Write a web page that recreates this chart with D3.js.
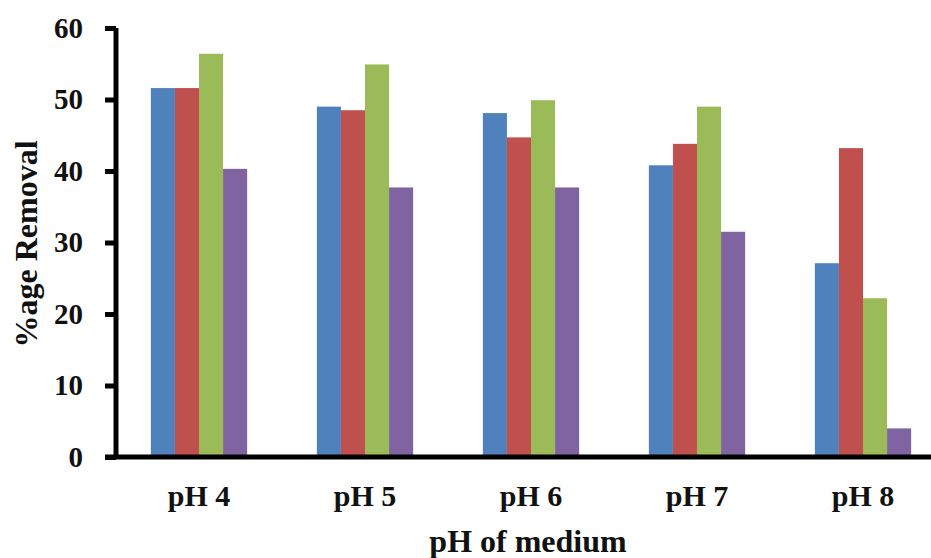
<!DOCTYPE html>
<html><head><meta charset="utf-8">
<script src="https://cdn.jsdelivr.net/npm/d3@7"></script>
<style>body{margin:0;background:#fff}svg{display:block}
svg text{font-family:"Liberation Serif","Times New Roman",Times,serif !important;font-weight:bold;fill:#111}</style>
</head><body><svg id="c" width="931" height="558"></svg>
<script>
const categories = ["pH 4","pH 5","pH 6","pH 7","pH 8"];
const seriesNames = ["S1","S2","S3","S4"];
const s1 = [51.6, 49.0, 48.1, 40.8, 27.1];
const s2 = [51.6, 48.5, 44.7, 43.8, 43.2];
const s3 = [56.4, 54.9, 49.9, 49.0, 22.2];
const s4 = [40.3, 37.7, 37.7, 31.5, 4.0];
const yTicks = [0,10,20,30,40,50,60];
const colors = ["#4F81BD","#C0504D","#9BBB59","#8064A2"];
const series = [s1,s2,s3,s4];

(function(){
const svg = d3.select("#c");
const pl = 116, pr = 946, pt = 28, pb = 457;
const x = d3.scaleBand().domain(categories).range([pl,pr]).paddingInner(0.42).paddingOuter(0.21);
const xs = d3.scaleBand().domain(seriesNames).range([0,x.bandwidth()]);
const y = d3.scaleLinear().domain([0,60]).range([pb,pt]);

const g = svg.append("g");
categories.forEach((c,i)=>{
  series.forEach((s,j)=>{
    g.append("rect").attr("x",x(c)+xs(seriesNames[j])).attr("width",xs.bandwidth())
      .attr("y",y(s[i])).attr("height",y(0)-y(s[i])).attr("fill",colors[j]);
  });
});

const yAxis = svg.append("g").attr("transform",`translate(${pl},0)`)
  .call(d3.axisLeft(y).tickValues(yTicks).tickSize(11).tickPadding(22));
yAxis.select(".domain").attr("stroke","#000").attr("stroke-width",5).attr("d",`M0,${pt}V${pb}`);
yAxis.selectAll(".tick line").attr("stroke","#000").attr("stroke-width",5);
yAxis.selectAll(".tick text").attr("font-size",29);

const xAxis = svg.append("g").attr("transform",`translate(0,${pb})`)
  .call(d3.axisBottom(x).tickSize(0).tickPadding(28));
xAxis.select(".domain").attr("stroke","#000").attr("stroke-width",5).attr("d",`M${pl-11},0H931`);
xAxis.selectAll(".tick text").attr("font-size",30);

svg.append("text").attr("x",528).attr("y",552).attr("text-anchor","middle")
  .attr("font-size",32).text("pH of medium");
svg.append("text").attr("transform","translate(37,244) rotate(-90)").attr("text-anchor","middle")
  .attr("font-size",32).text("%age Removal");
})();
</script></body></html>
